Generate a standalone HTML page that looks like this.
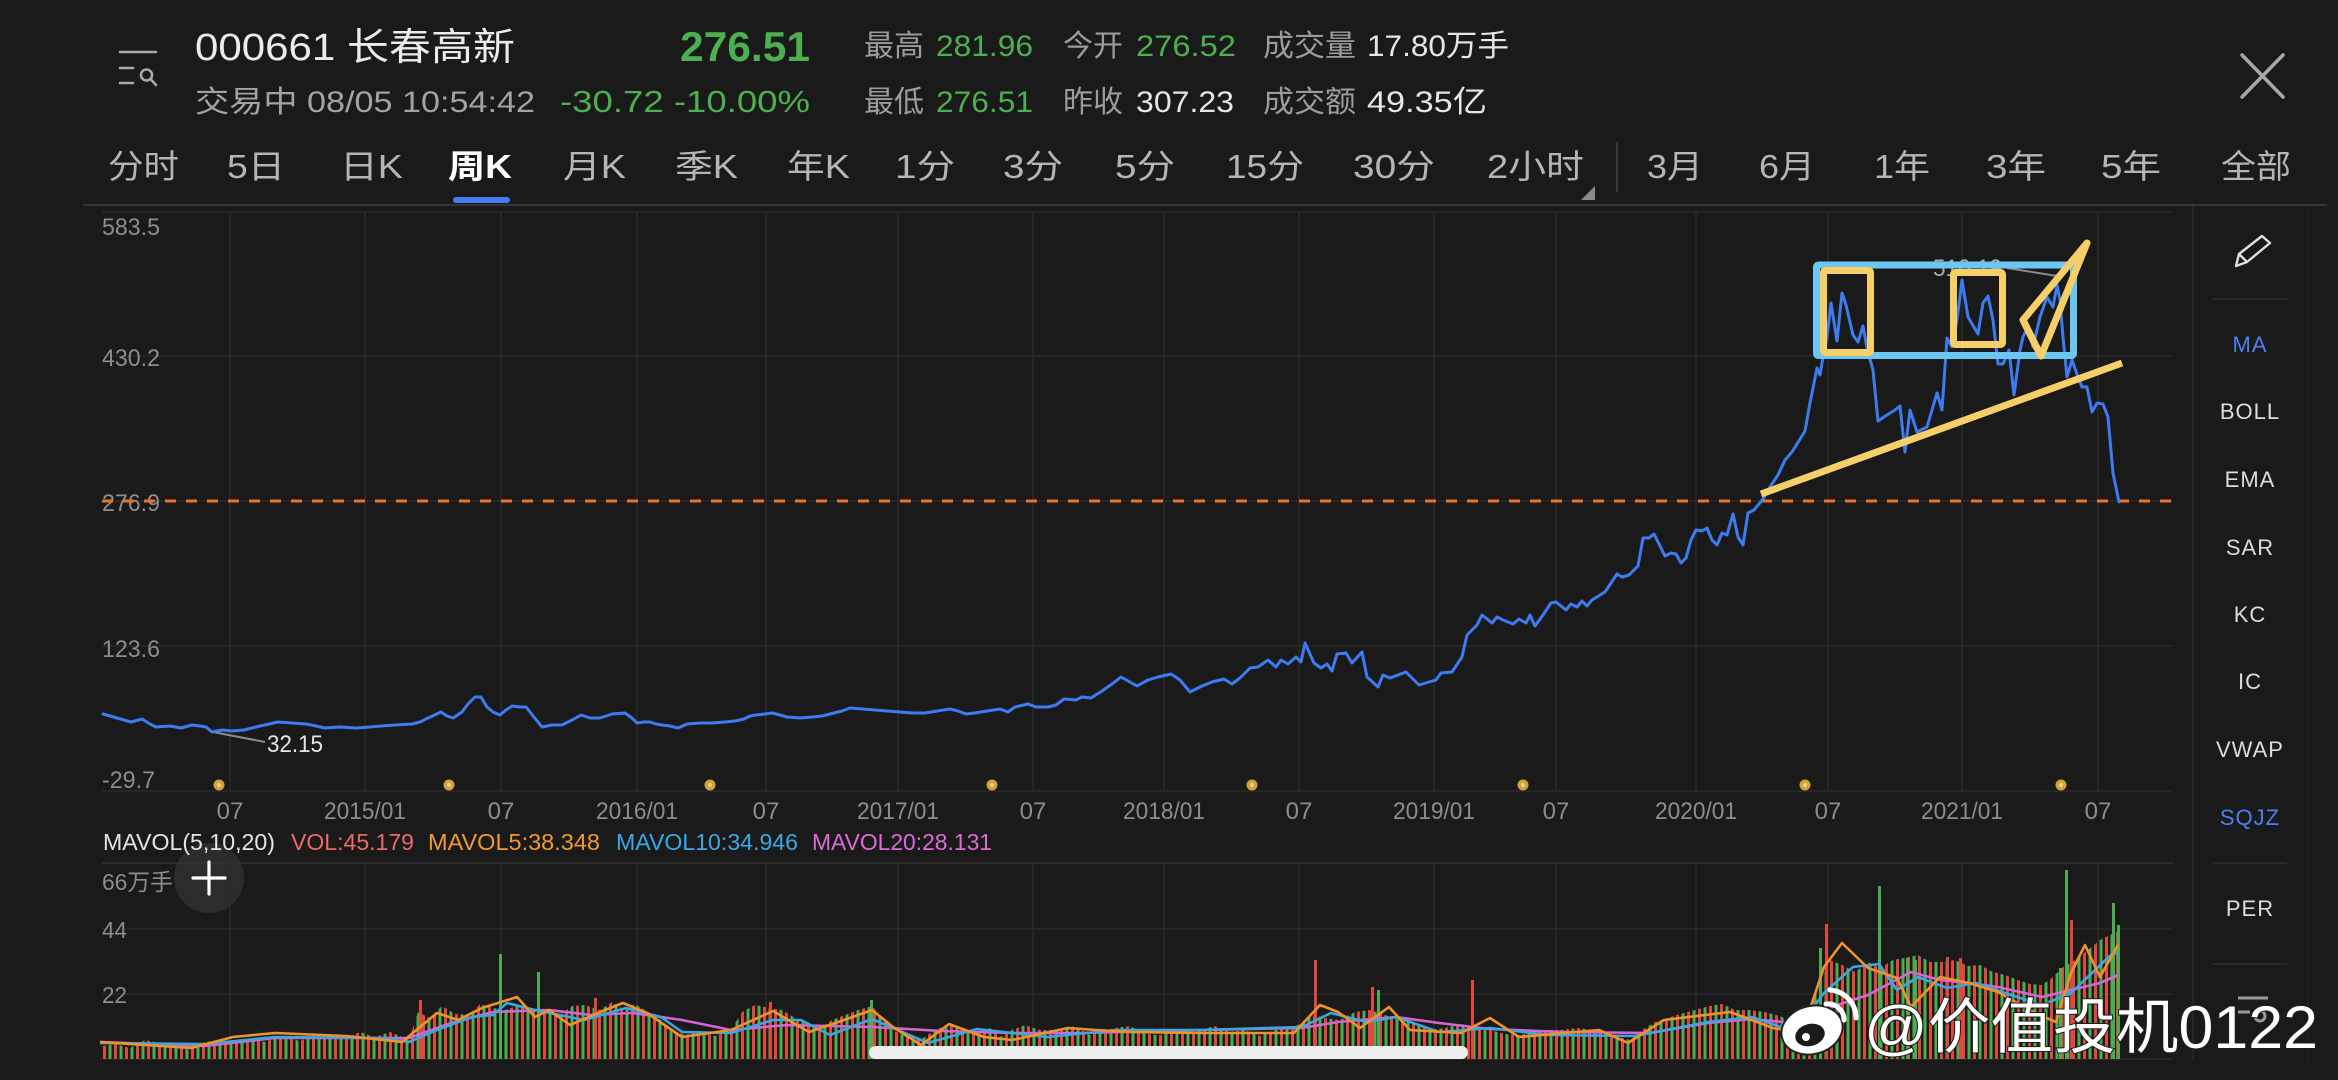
<!DOCTYPE html>
<html>
<head>
<meta charset="utf-8">
<style>
  html,body{margin:0;padding:0;background:#1a1a1a;}
  body{width:2338px;height:1080px;overflow:hidden;}
  svg{display:block;}
  text{font-family:"Liberation Sans","Noto Sans CJK SC",sans-serif;}
</style>
</head>
<body>
<svg width="2338" height="1080" viewBox="0 0 2338 1080" xmlns="http://www.w3.org/2000/svg">
  <defs>
    <pattern id="vb" patternUnits="userSpaceOnUse" x="103" y="0" width="11" height="1080">
      <rect x="0" y="0" width="3" height="1080" fill="#e2473d"/>
      <rect x="5.5" y="0" width="3" height="1080" fill="#4bad4f"/>
    </pattern>
    <clipPath id="env">
      <polygon points="103,1059 103,1046 115,1044 130,1048 145,1040 160,1043 175,1046 190,1050 205,1042 220,1040 235,1044 250,1038 265,1042 280,1036 300,1041 315,1035 330,1034 345,1038 360,1032 375,1037 390,1032 400,1036 409,1040 418,1012 430,1018 442,1006 455,1014 470,1015 480,1004 493,1008 505,1010 520,1005 530,1012 545,1010 560,1015 572,1006 585,1005 600,1010 612,1002 625,1010 635,1004 648,1012 661,1020 672,1030 685,1035 700,1032 715,1036 731,1030 742,1012 755,1005 770,1008 782,1010 795,1018 808,1025 820,1028 832,1020 845,1015 858,1010 872,1006 882,1018 892,1030 905,1036 920,1040 935,1030 950,1024 962,1030 975,1032 990,1028 1000,1037 1012,1030 1025,1025 1040,1030 1060,1030 1075,1026 1090,1035 1100,1032 1115,1028 1130,1026 1145,1034 1160,1035 1175,1030 1190,1034 1200,1030 1215,1026 1230,1032 1245,1030 1260,1036 1275,1030 1290,1028 1300,1024 1312,1015 1325,1018 1340,1020 1355,1012 1370,1010 1385,1015 1400,1020 1415,1024 1430,1030 1445,1028 1460,1024 1475,1026 1490,1030 1505,1034 1520,1035 1540,1030 1560,1030 1580,1028 1600,1032 1615,1036 1630,1040 1642,1030 1655,1022 1668,1018 1680,1014 1695,1010 1710,1006 1722,1004 1735,1010 1750,1010 1765,1012 1780,1016 1792,1022 1802,1026 1810,1005 1818,985 1830,960 1842,965 1855,972 1868,962 1880,968 1893,960 1905,958 1918,955 1930,962 1942,962 1955,960 1968,966 1980,965 1993,972 2005,975 2018,980 2030,984 2042,985 2052,978 2062,968 2075,960 2088,950 2100,940 2110,935 2121,930 2121,1059"/>
    </clipPath>
  </defs>

  <rect x="0" y="0" width="2338" height="1080" fill="#1a1a1a"/>

  <!-- ===== Header ===== -->
  <g stroke="#a9a9a9" stroke-width="2.6" fill="none" stroke-linecap="round">
    <line x1="120" y1="52" x2="156" y2="52"/>
    <line x1="120" y1="68" x2="133" y2="68"/>
    <line x1="120" y1="83" x2="133" y2="83"/>
    <circle cx="146.5" cy="75" r="5.5"/>
    <line x1="150.5" y1="79" x2="156" y2="85"/>
  </g>

  <text x="195" y="60" font-size="38" fill="#ececec" textLength="320" lengthAdjust="spacingAndGlyphs">000661 长春高新</text>
  <text x="680" y="61" font-size="42" font-weight="bold" fill="#4caf50" textLength="130" lengthAdjust="spacingAndGlyphs">276.51</text>

  <text x="864" y="56" font-size="30" fill="#9c9c9c" textLength="60" lengthAdjust="spacingAndGlyphs">最高</text>
  <text x="936" y="56" font-size="30" fill="#4caf50" textLength="97" lengthAdjust="spacingAndGlyphs">281.96</text>
  <text x="1063" y="56" font-size="30" fill="#9c9c9c" textLength="60" lengthAdjust="spacingAndGlyphs">今开</text>
  <text x="1136" y="56" font-size="30" fill="#4caf50" textLength="100" lengthAdjust="spacingAndGlyphs">276.52</text>
  <text x="1263" y="56" font-size="30" fill="#9c9c9c" textLength="93" lengthAdjust="spacingAndGlyphs">成交量</text>
  <text x="1367" y="56" font-size="30" fill="#e6e6e6" textLength="142" lengthAdjust="spacingAndGlyphs">17.80万手</text>

  <text x="195" y="112" font-size="30" fill="#a3a3a3" textLength="340" lengthAdjust="spacingAndGlyphs">交易中 08/05 10:54:42</text>
  <text x="560" y="112" font-size="31" fill="#4caf50" textLength="250" lengthAdjust="spacingAndGlyphs">-30.72 -10.00%</text>
  <text x="864" y="112" font-size="30" fill="#9c9c9c" textLength="60" lengthAdjust="spacingAndGlyphs">最低</text>
  <text x="936" y="112" font-size="30" fill="#4caf50" textLength="97" lengthAdjust="spacingAndGlyphs">276.51</text>
  <text x="1063" y="112" font-size="30" fill="#9c9c9c" textLength="60" lengthAdjust="spacingAndGlyphs">昨收</text>
  <text x="1136" y="112" font-size="30" fill="#e6e6e6" textLength="98" lengthAdjust="spacingAndGlyphs">307.23</text>
  <text x="1263" y="112" font-size="30" fill="#9c9c9c" textLength="93" lengthAdjust="spacingAndGlyphs">成交额</text>
  <text x="1367" y="112" font-size="30" fill="#e6e6e6" textLength="120" lengthAdjust="spacingAndGlyphs">49.35亿</text>

  <g stroke="#a8a8a8" stroke-width="3.5" stroke-linecap="round">
    <line x1="2242" y1="55" x2="2283" y2="97"/>
    <line x1="2283" y1="55" x2="2242" y2="97"/>
  </g>

  <!-- ===== Tabs ===== -->
  <g font-size="33" fill="#b5b5b5">
    <text x="108" y="178" textLength="71" lengthAdjust="spacingAndGlyphs">分时</text>
    <text x="227" y="178" textLength="58" lengthAdjust="spacingAndGlyphs">5日</text>
    <text x="340" y="178" textLength="63" lengthAdjust="spacingAndGlyphs">日K</text>
    <text x="448" y="178" textLength="64" lengthAdjust="spacingAndGlyphs" fill="#ffffff" font-weight="bold">周K</text>
    <text x="563" y="178" textLength="63" lengthAdjust="spacingAndGlyphs">月K</text>
    <text x="675" y="178" textLength="63" lengthAdjust="spacingAndGlyphs">季K</text>
    <text x="787" y="178" textLength="63" lengthAdjust="spacingAndGlyphs">年K</text>
    <text x="895" y="178" textLength="60" lengthAdjust="spacingAndGlyphs">1分</text>
    <text x="1003" y="178" textLength="60" lengthAdjust="spacingAndGlyphs">3分</text>
    <text x="1115" y="178" textLength="60" lengthAdjust="spacingAndGlyphs">5分</text>
    <text x="1226" y="178" textLength="78" lengthAdjust="spacingAndGlyphs">15分</text>
    <text x="1353" y="178" textLength="82" lengthAdjust="spacingAndGlyphs">30分</text>
    <text x="1487" y="178" textLength="97" lengthAdjust="spacingAndGlyphs">2小时</text>
    <text x="1647" y="178" textLength="56" lengthAdjust="spacingAndGlyphs">3月</text>
    <text x="1759" y="178" textLength="56" lengthAdjust="spacingAndGlyphs">6月</text>
    <text x="1874" y="178" textLength="56" lengthAdjust="spacingAndGlyphs">1年</text>
    <text x="1986" y="178" textLength="60" lengthAdjust="spacingAndGlyphs">3年</text>
    <text x="2101" y="178" textLength="60" lengthAdjust="spacingAndGlyphs">5年</text>
    <text x="2221" y="178" textLength="70" lengthAdjust="spacingAndGlyphs">全部</text>
  </g>
  <polygon points="1595,186 1595,200 1581,200" fill="#8a8a8a"/>
  <line x1="1617" y1="142" x2="1617" y2="192" stroke="#3a3a3a" stroke-width="2"/>
  <rect x="453" y="197" width="57" height="6" rx="3" fill="#3f7ff2"/>
  <line x1="83" y1="205" x2="2327" y2="205" stroke="#353535" stroke-width="2"/>

  <!-- ===== Right side panel ===== -->
  <g stroke="#2a2a2a" stroke-width="1.5">
    <line x1="2193" y1="206" x2="2193" y2="1060"/>
    <line x1="2308" y1="206" x2="2308" y2="1060" stroke="#232323"/>
  </g>
  <g fill="none" stroke="#e0e0e0" stroke-width="2.4" stroke-linejoin="round">
    <path d="M2236,266 L2239,254 L2262,236 L2270,243 L2247,262 Z"/>
    <line x1="2239" y1="254" x2="2247" y2="262"/>
  </g>
  <line x1="2213" y1="299" x2="2287" y2="299" stroke="#303030" stroke-width="1.5"/>
  <g font-size="22" text-anchor="middle" fill="#dcdcdc" letter-spacing="1">
    <text x="2250" y="352" fill="#4a80f0">MA</text>
    <text x="2250" y="419">BOLL</text>
    <text x="2250" y="487">EMA</text>
    <text x="2250" y="555">SAR</text>
    <text x="2250" y="622">KC</text>
    <text x="2250" y="689">IC</text>
    <text x="2250" y="757">VWAP</text>
    <text x="2250" y="825" fill="#4a80f0">SQJZ</text>
    <text x="2250" y="916">PER</text>
  </g>
  <line x1="2213" y1="863" x2="2287" y2="863" stroke="#303030" stroke-width="1.5"/>
  <line x1="2213" y1="964" x2="2287" y2="964" stroke="#303030" stroke-width="1.5"/>
  <g stroke="#9a9a9a" stroke-width="3" fill="none">
    <line x1="2238" y1="998" x2="2268" y2="998"/>
    <line x1="2238" y1="1012" x2="2250" y2="1012"/>
    <circle cx="2260" cy="1016" r="5"/>
  </g>

  <!-- ===== Price chart grid ===== -->
  <g stroke="#2a2a2a" stroke-width="1.5">
    <line x1="102" y1="212" x2="2173" y2="212"/>
    <line x1="102" y1="356" x2="2173" y2="356"/>
    <line x1="102" y1="501" x2="2173" y2="501"/>
    <line x1="102" y1="646" x2="2173" y2="646"/>
    <line x1="102" y1="791" x2="2173" y2="791"/>
    <line x1="230" y1="212" x2="230" y2="791"/>
    <line x1="365" y1="212" x2="365" y2="791"/>
    <line x1="501" y1="212" x2="501" y2="791"/>
    <line x1="637" y1="212" x2="637" y2="791"/>
    <line x1="766" y1="212" x2="766" y2="791"/>
    <line x1="898" y1="212" x2="898" y2="791"/>
    <line x1="1033" y1="212" x2="1033" y2="791"/>
    <line x1="1164" y1="212" x2="1164" y2="791"/>
    <line x1="1299" y1="212" x2="1299" y2="791"/>
    <line x1="1434" y1="212" x2="1434" y2="791"/>
    <line x1="1556" y1="212" x2="1556" y2="791"/>
    <line x1="1696" y1="212" x2="1696" y2="791"/>
    <line x1="1828" y1="212" x2="1828" y2="791"/>
    <line x1="1962" y1="212" x2="1962" y2="791"/>
    <line x1="2098" y1="212" x2="2098" y2="791"/>
  </g>

  <g font-size="24" fill="#8d8d8d">
    <text x="102" y="235" textLength="58" lengthAdjust="spacingAndGlyphs">583.5</text>
    <text x="102" y="366" textLength="58" lengthAdjust="spacingAndGlyphs">430.2</text>
    <text x="102" y="511" textLength="58" lengthAdjust="spacingAndGlyphs">276.9</text>
    <text x="102" y="657" textLength="58" lengthAdjust="spacingAndGlyphs">123.6</text>
    <text x="102" y="788" textLength="53" lengthAdjust="spacingAndGlyphs">-29.7</text>
  </g>

  <line x1="102" y1="501" x2="2173" y2="501" stroke="#ea722b" stroke-width="3" stroke-dasharray="11 10"/>

  <g font-size="24" fill="#8d8d8d" text-anchor="middle">
    <text x="230" y="819">07</text>
    <text x="365" y="819" textLength="82" lengthAdjust="spacingAndGlyphs">2015/01</text>
    <text x="501" y="819">07</text>
    <text x="637" y="819" textLength="82" lengthAdjust="spacingAndGlyphs">2016/01</text>
    <text x="766" y="819">07</text>
    <text x="898" y="819" textLength="82" lengthAdjust="spacingAndGlyphs">2017/01</text>
    <text x="1033" y="819">07</text>
    <text x="1164" y="819" textLength="82" lengthAdjust="spacingAndGlyphs">2018/01</text>
    <text x="1299" y="819">07</text>
    <text x="1434" y="819" textLength="82" lengthAdjust="spacingAndGlyphs">2019/01</text>
    <text x="1556" y="819">07</text>
    <text x="1696" y="819" textLength="82" lengthAdjust="spacingAndGlyphs">2020/01</text>
    <text x="1828" y="819">07</text>
    <text x="1962" y="819" textLength="82" lengthAdjust="spacingAndGlyphs">2021/01</text>
    <text x="2098" y="819">07</text>
  </g>

  <g fill="#d2a23a">
    <circle cx="219" cy="785" r="5.5"/>
    <circle cx="449" cy="785" r="5.5"/>
    <circle cx="710" cy="785" r="5.5"/>
    <circle cx="992" cy="785" r="5.5"/>
    <circle cx="1252" cy="785" r="5.5"/>
    <circle cx="1523" cy="785" r="5.5"/>
    <circle cx="1805" cy="785" r="5.5"/>
    <circle cx="2061" cy="785" r="5.5"/>
  </g>
  <g fill="#ecd08a">
    <circle cx="219" cy="785" r="2"/>
    <circle cx="449" cy="785" r="2"/>
    <circle cx="710" cy="785" r="2"/>
    <circle cx="992" cy="785" r="2"/>
    <circle cx="1252" cy="785" r="2"/>
    <circle cx="1523" cy="785" r="2"/>
    <circle cx="1805" cy="785" r="2"/>
    <circle cx="2061" cy="785" r="2"/>
  </g>

  <line x1="213" y1="732" x2="265" y2="742" stroke="#8a8a8a" stroke-width="2"/>
  <text x="267" y="752" font-size="24" fill="#e6e6e6" textLength="56" lengthAdjust="spacingAndGlyphs">32.15</text>

  <line x1="2007" y1="268" x2="2057" y2="276" stroke="#8a8a8a" stroke-width="2"/>
  <text x="1933" y="276" font-size="24" fill="#a8a8a8" textLength="69" lengthAdjust="spacingAndGlyphs">510.19</text>

  <polyline fill="none" stroke="#3d7cf0" stroke-width="3" stroke-linejoin="round" stroke-linecap="round" points="103,714 117,718 131,722 142,719 150,724 156,727 170,726 181,728 192,725 200,726 206,727 212,732 222,730 232,731 244,730 260,726 278,722 292,723 306,724 316,726 325,728 340,727 356,728 370,727 381,726 395,725 412,724 420,722 428,718 441,712 447,716 453,718 462,712 468,704 475,697 481,697 487,707 493,712 500,715 506,710 512,706 520,707 526,707 534,717 542,727 552,725 562,725 572,720 581,715 590,718 600,718 606,716 612,714 625,713 632,718 637,723 644,722 650,722 656,724 662,725 670,726 678,728 687,724 700,723 712,723 725,722 735,721 744,719 750,716 756,715 765,714 772,713 780,715 787,717 800,718 812,717 822,716 834,713 842,711 850,708 862,709 875,710 887,711 900,712 912,713 925,713 937,711 950,709 958,711 966,714 975,713 987,711 1000,709 1008,712 1015,707 1028,704 1036,707 1048,707 1056,705 1064,699 1076,700 1082,697 1091,698 1102,691 1112,684 1121,677 1137,686 1148,680 1158,677 1171,674 1180,680 1190,692 1202,686 1212,682 1224,679 1232,684 1240,678 1250,668 1258,667 1268,660 1276,667 1281,660 1288,664 1296,657 1301,662 1305,643 1314,663 1321,668 1327,664 1332,671 1337,654 1346,653 1352,663 1362,652 1367,677 1378,687 1383,675 1390,678 1406,672 1419,685 1429,682 1436,680 1441,673 1452,672 1462,657 1467,635 1477,625 1482,615 1492,623 1497,617 1503,620 1513,624 1519,619 1526,623 1530,615 1535,626 1543,615 1551,603 1556,602 1566,610 1571,604 1577,607 1582,601 1587,606 1592,600 1605,592 1617,574 1622,577 1629,575 1638,566 1643,538 1649,538 1654,534 1661,548 1665,556 1671,553 1676,554 1681,563 1686,558 1691,540 1696,530 1702,531 1707,528 1712,540 1717,545 1722,533 1727,535 1733,514 1738,537 1743,545 1748,513 1754,510 1763,499 1770,487 1778,475 1785,460 1792,452 1805,431 1810,403 1817,368 1820,375 1823,357 1827,337 1831,303 1837,341 1842,293 1846,305 1853,335 1858,342 1863,326 1867,348 1873,370 1878,421 1887,415 1895,410 1900,406 1905,452 1910,410 1917,432 1927,427 1932,410 1937,393 1942,410 1947,338 1952,347 1957,320 1962,280 1968,317 1978,334 1983,303 1988,296 1993,320 1998,364 2003,364 2009,350 2014,395 2020,350 2023,337 2028,327 2033,347 2040,317 2047,297 2053,307 2057,285 2060,300 2063,337 2067,377 2072,360 2078,377 2082,387 2087,387 2092,412 2097,403 2103,404 2108,417 2113,473 2119,502"/>

  <rect x="1816.5" y="265" width="257" height="90.5" rx="2" fill="none" stroke="#6cc6f2" stroke-width="7"/>
  <g fill="none" stroke="#f6cf69" stroke-width="7" stroke-linejoin="round">
    <rect x="1823.5" y="270.5" width="47" height="82" rx="2"/>
    <rect x="1953.5" y="272.5" width="49" height="72" rx="2"/>
    <polygon points="2023,320 2087,243 2041,356"/>
    <line x1="1761" y1="494" x2="2122" y2="363"/>
  </g>

  <!-- ===== Volume section ===== -->
  <!-- plus button (behind legend text) -->
  <circle cx="209" cy="878" r="35" fill="#2f2f2f" fill-opacity="0.9"/>

  <g font-size="23">
    <text x="103" y="850" fill="#e4e4e4" textLength="172" lengthAdjust="spacingAndGlyphs">MAVOL(5,10,20)</text>
    <text x="291" y="850" fill="#ea6a6a" textLength="123" lengthAdjust="spacingAndGlyphs">VOL:45.179</text>
    <text x="428" y="850" fill="#f3992f" textLength="172" lengthAdjust="spacingAndGlyphs">MAVOL5:38.348</text>
    <text x="616" y="850" fill="#3aa8e6" textLength="182" lengthAdjust="spacingAndGlyphs">MAVOL10:34.946</text>
    <text x="812" y="850" fill="#dc6ad8" textLength="180" lengthAdjust="spacingAndGlyphs">MAVOL20:28.131</text>
  </g>

  <g stroke="#2a2a2a" stroke-width="1.5">
    <line x1="102" y1="863" x2="2173" y2="863" stroke="#333"/>
    <line x1="102" y1="929" x2="2173" y2="929"/>
    <line x1="102" y1="994" x2="2173" y2="994"/>
    <line x1="102" y1="1059" x2="2173" y2="1059"/>
    <line x1="230" y1="863" x2="230" y2="1059"/>
    <line x1="365" y1="863" x2="365" y2="1059"/>
    <line x1="501" y1="863" x2="501" y2="1059"/>
    <line x1="637" y1="863" x2="637" y2="1059"/>
    <line x1="766" y1="863" x2="766" y2="1059"/>
    <line x1="898" y1="863" x2="898" y2="1059"/>
    <line x1="1033" y1="863" x2="1033" y2="1059"/>
    <line x1="1164" y1="863" x2="1164" y2="1059"/>
    <line x1="1299" y1="863" x2="1299" y2="1059"/>
    <line x1="1434" y1="863" x2="1434" y2="1059"/>
    <line x1="1556" y1="863" x2="1556" y2="1059"/>
    <line x1="1696" y1="863" x2="1696" y2="1059"/>
    <line x1="1828" y1="863" x2="1828" y2="1059"/>
    <line x1="1962" y1="863" x2="1962" y2="1059"/>
    <line x1="2098" y1="863" x2="2098" y2="1059"/>
  </g>

  <g font-size="23" fill="#8d8d8d">
    <text x="102" y="890" textLength="71" lengthAdjust="spacingAndGlyphs">66万手</text>
    <text x="102" y="938" textLength="25" lengthAdjust="spacingAndGlyphs">44</text>
    <text x="102" y="1003" textLength="25" lengthAdjust="spacingAndGlyphs">22</text>
  </g>

  <g stroke="#ffffff" stroke-width="3.2" stroke-linecap="round">
    <line x1="193" y1="878" x2="225" y2="878"/>
    <line x1="209" y1="862" x2="209" y2="894"/>
  </g>

  <rect x="103" y="860" width="2020" height="199" fill="url(#vb)" clip-path="url(#env)"/>
  <g>
    <rect x="419" y="1000" width="3" height="59" fill="#e2473d"/>
    <rect x="499" y="954" width="3" height="105" fill="#4bad4f"/>
    <rect x="537" y="972" width="3" height="87" fill="#4bad4f"/>
    <rect x="594" y="998" width="3" height="61" fill="#e2473d"/>
    <rect x="769" y="1002" width="3" height="57" fill="#e2473d"/>
    <rect x="870" y="1000" width="3" height="59" fill="#4bad4f"/>
    <rect x="1314" y="960" width="3" height="99" fill="#e2473d"/>
    <rect x="1371" y="987" width="3" height="72" fill="#e2473d"/>
    <rect x="1377" y="990" width="3" height="69" fill="#4bad4f"/>
    <rect x="1471" y="980" width="3" height="79" fill="#e2473d"/>
    <rect x="1819" y="948" width="3" height="111" fill="#4bad4f"/>
    <rect x="1825" y="924" width="3" height="135" fill="#e2473d"/>
    <rect x="1878" y="886" width="3" height="173" fill="#4bad4f"/>
    <rect x="1906" y="958" width="3" height="101" fill="#4bad4f"/>
    <rect x="1914" y="960" width="3" height="99" fill="#4bad4f"/>
    <rect x="1946" y="957" width="3" height="102" fill="#e2473d"/>
    <rect x="1959" y="958" width="3" height="101" fill="#e2473d"/>
    <rect x="2059" y="968" width="3" height="91" fill="#4bad4f"/>
    <rect x="2065" y="870" width="3" height="189" fill="#4bad4f"/>
    <rect x="2070" y="920" width="3" height="139" fill="#e2473d"/>
    <rect x="2112" y="903" width="3" height="156" fill="#4bad4f"/>
    <rect x="2117" y="925" width="3" height="134" fill="#4bad4f"/>
  </g>

  <polyline fill="none" stroke="#d565d5" stroke-width="2.6" stroke-linejoin="round" points="100,1042 205,1046 275,1038 381,1038 409,1038 451,1023 493,1012 549,1010 591,1015 633,1013 682,1020 731,1030 787,1025 872,1027 942,1031 1012,1033 1082,1033 1200,1030 1302,1028 1338,1022 1396,1017 1439,1023 1490,1029 1563,1032 1650,1033 1708,1023 1752,1019 1802,1024 1831,1007 1868,995 1911,972 1940,980 1969,983 1998,987 2042,997 2071,990 2100,983 2118,975"/>
  <polyline fill="none" stroke="#3aa6e2" stroke-width="2.6" stroke-linejoin="round" points="100,1043 205,1044 275,1037 381,1038 409,1042 437,1030 472,1017 493,1015 507,1003 535,1010 584,1020 626,1008 661,1017 682,1032 731,1033 773,1020 801,1020 830,1035 872,1019 928,1043 977,1029 1047,1037 1117,1030 1200,1030 1302,1027 1331,1013 1367,1022 1396,1017 1439,1032 1490,1028 1548,1035 1635,1036 1708,1022 1752,1017 1795,1032 1824,993 1853,967 1879,964 1897,990 1918,977 1947,988 1976,983 2005,993 2042,1005 2071,993 2114,952 2118,955"/>
  <polyline fill="none" stroke="#f0922b" stroke-width="2.6" stroke-linejoin="round" points="100,1042 191,1048 233,1037 275,1033 346,1036 402,1042 437,1013 458,1020 482,1008 517,997 535,1017 549,1010 570,1025 605,1010 623,1003 647,1013 682,1037 731,1030 773,1011 809,1032 844,1020 872,1010 893,1027 921,1045 949,1024 984,1037 1012,1040 1068,1028 1096,1030 1131,1032 1200,1033 1294,1033 1320,1005 1338,1012 1360,1028 1389,1007 1410,1030 1461,1033 1490,1018 1519,1037 1599,1030 1628,1043 1664,1020 1730,1012 1773,1028 1802,1033 1824,967 1842,943 1868,968 1897,978 1911,1007 1940,977 1969,983 1998,992 2035,1013 2056,1022 2071,973 2085,945 2100,977 2118,945"/>

  <rect x="869" y="1046" width="599" height="13" rx="6.5" fill="#efefef"/>

  <g>
    <ellipse cx="1812" cy="1030" rx="31" ry="24" transform="rotate(-15 1812 1030)" fill="#ffffff" stroke="#222" stroke-width="2"/>
    <ellipse cx="1810" cy="1035" rx="15" ry="11" transform="rotate(-15 1810 1035)" fill="#1a1a1a"/>
    <circle cx="1806" cy="1037" r="4" fill="#ffffff"/>
    <path d="M1826,1004 A16,16 0 0 1 1844,1020" fill="none" stroke="#ffffff" stroke-width="5" stroke-linecap="round"/>
    <path d="M1830,990 A28,28 0 0 1 1856,1018" fill="none" stroke="#ffffff" stroke-width="5" stroke-linecap="round"/>
  </g>
  <text x="1864" y="1048" font-size="60" fill="#ffffff" stroke="#1e1e1e" stroke-width="2" paint-order="stroke" textLength="454" lengthAdjust="spacingAndGlyphs">@价值投机0122</text>
</svg>
</body>
</html>
